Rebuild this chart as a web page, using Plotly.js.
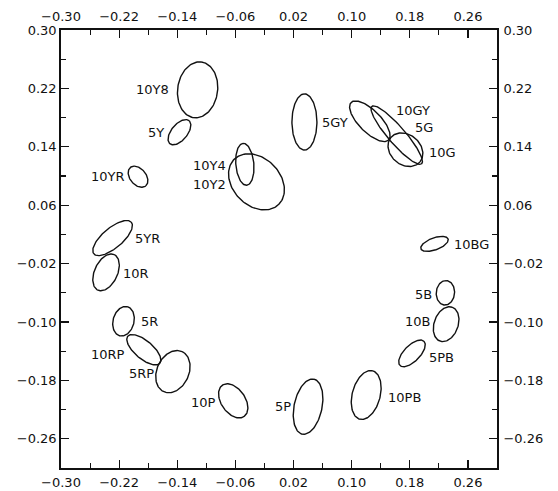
<!DOCTYPE html>
<html><head><meta charset="utf-8">
<script src="https://cdn.plot.ly/plotly-3.0.1.min.js"></script>
<style>html,body{margin:0;padding:0;background:#fff}#chart{width:558px;height:491px}</style>
</head><body><div id="chart"></div>
<script>
// Munsell hue ellipses: centre, semi-axes (data units) and orientation (degrees)
const hueNames   = ["10Y8","5Y","10YR","10Y4","10Y2","5GY","10GY","5G","10G","10BG","5B","10B","5PB","10PB","5P","10P","5RP","10RP","5R","10R","5YR"];
const centerX    = [-0.112,-0.137,-0.194,-0.047,-0.031,0.035,0.125,0.162,0.174,0.214,0.229,0.230,0.183,0.120,0.040,-0.063,-0.146,-0.186,-0.214,-0.238,-0.229];
const centerY    = [0.218,0.160,0.099,0.116,0.092,0.174,0.175,0.156,0.136,0.007,-0.060,-0.103,-0.143,-0.200,-0.216,-0.208,-0.168,-0.138,-0.099,-0.032,0.015];
const semiMajor  = [0.0385,0.0206,0.0165,0.0288,0.0435,0.0385,0.0364,0.0522,0.0261,0.0199,0.0168,0.0247,0.0234,0.0343,0.0385,0.0261,0.0302,0.0288,0.0206,0.0268,0.0337];
const semiMinor  = [0.0275,0.0110,0.0110,0.0124,0.0326,0.0172,0.0151,0.0117,0.0206,0.0082,0.0126,0.0165,0.0110,0.0192,0.0192,0.0165,0.0220,0.0124,0.0144,0.0158,0.0137];
const angleDeg   = [82,50,-50,95,-45,90,-45,-49,-40,20,85,70,45,75,78,-55,65,-40,75,65,40];
// label anchor points (data units) and side
const labelX     = [-0.150,-0.157,-0.211,-0.071,-0.072,0.058,0.159,0.186,0.205,0.239,0.212,0.209,0.205,0.148,0.018,-0.085,-0.171,-0.211,-0.191,-0.216,-0.200];
const labelY     = [0.219,0.159,0.099,0.115,0.089,0.173,0.190,0.166,0.132,0.006,-0.063,-0.099,-0.149,-0.203,-0.216,-0.210,-0.170,-0.144,-0.099,-0.033,0.014];
const labelSide  = ["right","right","right","right","right","left","left","left","left","left","right","right","left","left","right","right","right","right","left","left","left"];
const axisRange  = [-0.30, 0.30];
const xTickStart = -0.30, yTickStart = 0.30, tickStep = 0.08;

const traces = hueNames.map((name, i) => {
  const xs = [], ys = [];
  const th = angleDeg[i] * Math.PI / 180;
  const N = 120;
  for (let k = 0; k <= N; k++) {
    const t = 2 * Math.PI * k / N;
    const u = semiMajor[i] * Math.cos(t), v = semiMinor[i] * Math.sin(t);
    xs.push(centerX[i] + u * Math.cos(th) - v * Math.sin(th));
    ys.push(centerY[i] + u * Math.sin(th) + v * Math.cos(th));
  }
  return {x: xs, y: ys, mode: 'lines', type: 'scatter', name: name,
          line: {color: '#111', width: 1.4}, hoverinfo: 'name', showlegend: false};
});

const annotations = hueNames.map((name, i) => ({
  x: labelX[i], y: labelY[i], xref: 'x', yref: 'y', text: name, showarrow: false,
  xanchor: labelSide[i], yanchor: 'middle', borderpad: 0,
  font: {family: 'DejaVu Sans', size: 13, color: '#111'}
}));

function axis(tick0, extra) {
  return Object.assign({
    range: axisRange, tick0: tick0, dtick: tickStep, tickformat: '.2f',
    ticks: 'inside', ticklen: 8, tickwidth: 1.2, tickcolor: '#111',
    minor: {tick0: tick0, dtick: tickStep / 2, ticks: 'inside', ticklen: 5, tickwidth: 1.1, tickcolor: '#111'},
    showline: true, linecolor: '#111', linewidth: 1.8, showgrid: false, zeroline: false,
    tickfont: {family: 'DejaVu Sans', size: 13, color: '#111'}, fixedrange: true
  }, extra);
}

const layout = {
  width: 558, height: 491,
  margin: {l: 61, r: 61, t: 30, b: 23, pad: 0},
  paper_bgcolor: '#fff', plot_bgcolor: '#fff',
  showlegend: false,
  xaxis: axis(xTickStart, {side: 'bottom', anchor: 'y', ticklabelstandoff: 2}),
  yaxis: axis(yTickStart, {side: 'left', anchor: 'x', ticklabelstandoff: 0}),
  xaxis2: axis(xTickStart, {side: 'top', overlaying: 'x', anchor: 'y', ticklabelstandoff: 2}),
  yaxis2: axis(yTickStart, {side: 'right', overlaying: 'y', anchor: 'x', ticklabelstandoff: 2}),
  annotations: annotations
};

traces.push({x: [], y: [], xaxis: 'x2', yaxis: 'y2', type: 'scatter', mode: 'lines', showlegend: false, hoverinfo: 'skip'});

Plotly.newPlot('chart', traces, layout, {staticPlot: true, displayModeBar: false});
</script>
</body></html>
